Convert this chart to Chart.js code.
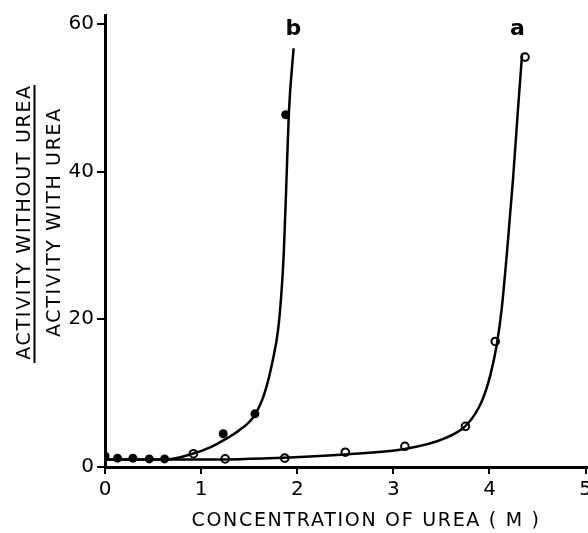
<!DOCTYPE html>
<html lang="en">
<head>
  <meta charset="UTF-8" />
  <title>Activity ratio vs urea concentration</title>
  <script src="https://cdn.jsdelivr.net/npm/chart.js"></script>
  <style>
    html, body {
      margin: 0;
      background: white;
      overflow: hidden;
    }
    /* a little wider than the window so the "5" label is cut at the edge like the original */
    #wrap {
      width: 596px;
      height: 533px;
    }
  </style>
</head>
<body>
  <div id="wrap"><canvas id="ureaChart"></canvas></div>

  <script>
    // measured points (b = filled circles, a = open circles)
    const bPointsX = [0, 0.13, 0.29, 0.46, 0.62, 1.23, 1.56, 1.88];
    const bPointsY = [1.5, 1.2, 1.2, 1.1, 1.1, 4.5, 7.2, 47.7];
    const aPointsX = [0.92, 1.25, 1.87, 2.5, 3.12, 3.75, 4.06, 4.37];
    const aPointsY = [1.8, 1.1, 1.2, 2.0, 2.8, 5.5, 17.0, 55.5];

    // hand drawn curves
    const bCurveX = [0, 0.3, 0.65, 0.91, 1.1, 1.23, 1.4, 1.556, 1.66, 1.746, 1.80, 1.835, 1.86, 1.887, 1.913, 1.962];
    const bCurveY = [1.0, 1.0, 1.05, 1.8, 2.7, 3.6, 5.0, 7.0, 10.0, 14.5, 18.5, 23.5, 29.0, 38.5, 48.0, 56.7];
    const aCurveX = [0, 1, 1.92, 2.5, 3.1, 3.52, 3.77, 3.92, 4.01, 4.08, 4.127, 4.19, 4.246, 4.294, 4.34];
    const aCurveY = [1.0, 1.0, 1.3, 1.7, 2.4, 3.8, 5.8, 8.9, 12.5, 16.9, 21.4, 30.3, 39.2, 48.0, 56.0];

    const xTicks = [0, 1, 2, 3, 4, 5];
    const yTicks = [0, 20, 40, 60];

    const xTitle = "CONCENTRATION OF UREA ( M )";
    const yTitleTop = "ACTIVITY WITHOUT UREA";
    const yTitleBottom = "ACTIVITY WITH UREA";

    const toXY = (xs, ys) => xs.map((x, i) => ({ x: x, y: ys[i] }));

    const textPlugin = {
      id: "textPlugin",
      afterDraw(chart) {
        const ctx = chart.ctx;
        const xs = chart.scales.x;
        const ys = chart.scales.y;
        ctx.save();
        ctx.fillStyle = "#000";
        ctx.textAlign = "center";
        ctx.textBaseline = "middle";

        ctx.font = '19px "DejaVu Sans"';
        ctx.letterSpacing = "1.7px";
        ctx.fillText(xTitle, 366, 521);

        ctx.save();
        ctx.translate(25, 222);
        ctx.rotate(-Math.PI / 2);
        ctx.fillText(yTitleTop, 0, 0);
        ctx.restore();

        ctx.save();
        ctx.translate(55, 222);
        ctx.rotate(-Math.PI / 2);
        ctx.fillText(yTitleBottom, 0, 0);
        ctx.restore();

        ctx.fillRect(33.5, 85, 2, 278);

        ctx.letterSpacing = "0px";
        ctx.font = 'bold 22px "DejaVu Sans"';
        ctx.fillText("b", xs.getPixelForValue(1.96), ys.getPixelForValue(59.3));
        ctx.fillText("a", xs.getPixelForValue(4.29), ys.getPixelForValue(59.2));
        ctx.restore();
      }
    };

    const ureaChart = new Chart(document.getElementById("ureaChart"), {
      type: "scatter",
      data: {
        datasets: [
          {
            data: toXY(aCurveX, aCurveY),
            showLine: true,
            borderColor: "#000",
            borderWidth: 2.5,
            pointRadius: 0,
            cubicInterpolationMode: "monotone"
          },
          {
            data: toXY(bCurveX, bCurveY),
            showLine: true,
            borderColor: "#000",
            borderWidth: 2.5,
            pointRadius: 0,
            cubicInterpolationMode: "monotone"
          },
          {
            data: toXY(aPointsX, aPointsY),
            pointRadius: 3.8,
            pointBorderWidth: 2,
            pointBorderColor: "#000",
            pointBackgroundColor: "#fff"
          },
          {
            data: toXY(bPointsX, bPointsY),
            pointRadius: 4.5,
            pointBorderWidth: 0,
            pointBackgroundColor: "#000"
          }
        ]
      },
      options: {
        responsive: true,
        maintainAspectRatio: false,
        animation: false,
        layout: { padding: { top: 8, right: 0, left: 0, bottom: 0 } },
        plugins: {
          legend: { display: false },
          tooltip: { enabled: false }
        },
        scales: {
          x: {
            type: "linear",
            min: 0,
            max: 5.02,
            afterBuildTicks: (s) => { s.ticks = xTicks.map(v => ({ value: v })); },
            afterFit: (s) => { s.height = 66; },
            ticks: {
              color: "#000",
              padding: 4,
              font: { family: "DejaVu Sans", size: 20 }
            },
            grid: { drawOnChartArea: false, color: "#000", tickLength: 7, lineWidth: 2 },
            border: { color: "#000", width: 3 }
          },
          y: {
            type: "linear",
            min: 0,
            max: 61.2,
            afterBuildTicks: (s) => { s.ticks = yTicks.map(v => ({ value: v })); },
            afterFit: (s) => { s.width = 105; },
            ticks: {
              color: "#000",
              padding: 3,
              font: { family: "DejaVu Sans", size: 20 }
            },
            grid: { drawOnChartArea: false, color: "#000", tickLength: 8, lineWidth: 2 },
            border: { color: "#000", width: 3 }
          }
        }
      },
      plugins: [textPlugin]
    });
  </script>
</body>
</html>
